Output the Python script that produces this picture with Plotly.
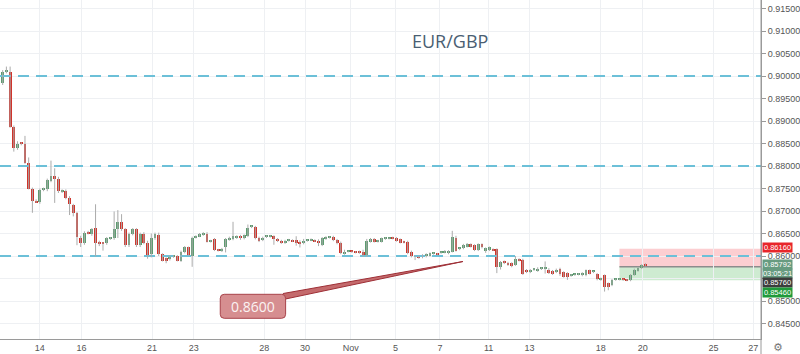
import plotly.graph_objects as go

# ---------------- data (4h EUR/GBP candles) ----------------
opens = [.8984,.9009,.9010,.8887,.8841,.8850,.8849,.8807,.8750,.8723,
         .8720,.8747,.8748,.8767,.8778,.8772,.8744,.8745,.8730,.8714,
         .8695,.8641,.8628,.8652,.8649,.8662,.8630,.8628,.8628,.8639,
         .8639,.8661,.8676,.8659,.8624,.8650,.8659,.8624,.8650,.8630,
         .8605,.8639,.8647,.8604,.8595,.8593,.8599,.8600,.8590,.8608,
         .8619,.8599,.8641,.8644,.8648,.8650,.8633,.8637,.8614,.8613,
         .8619,.8636,.8637,.8642,.8644,.8639,.8644,.8665,.8665,.8641,
         .8636,.8643,.8644,.8645,.8638,.8634,.8630,.8635,.8634,.8635,
         .8632,.8628,.8634,.8635,.8634,.8634,.8624,.8639,.8641,.8642,
         .8636,.8630,.8606,.8610,.8610,.8609,.8610,.8610,.8600,.8632,
         .8637,.8633,.8632,.8639,.8639,.8640,.8640,.8637,.8632,.8632,
         .8610,.8599,.8599,.8597,.8599,.8601,.8606,.8605,.8607,.8608,
         .8606,.8610,.8639,.8616,.8617,.8621,.8626,.8624,.8613,.8626,
         .8612,.8613,.8614,.8615,.8576,.8587,.8585,.8584,.8580,.8592,
         .8591,.8569,.8564,.8570,.8567,.8572,.8572,.8570,.8567,.8564,
         .8572,.8564,.8562,.8557,.8559,.8560,.8557,.8557,.8568,.8565,
         .8559,.8548,.8557,.8539,.8536,.8548,.8548,.8548,.8547,.8546,
         .8558,.8567,.8573,.8580]
highs = [.9013,.9021,.9021,.8890,.8855,.8853,.8867,.8819,.8752,.8726,
         .8750,.8752,.8772,.8812,.8795,.8776,.8748,.8748,.8733,.8716,
         .8698,.8645,.8655,.8656,.8662,.8715,.8634,.8631,.8642,.8642,
         .8699,.8702,.8693,.8662,.8652,.8662,.8662,.8652,.8653,.8634,
         .8650,.8652,.8652,.8606,.8597,.8602,.8602,.8602,.8612,.8622,
         .8621,.8643,.8646,.8651,.8653,.8653,.8636,.8640,.8616,.8618,
         .8640,.8643,.8676,.8646,.8647,.8648,.8670,.8668,.8667,.8643,
         .8643,.8646,.8647,.8646,.8640,.8636,.8636,.8638,.8637,.8644,
         .8635,.8638,.8637,.8639,.8637,.8637,.8642,.8644,.8644,.8645,
         .8638,.8632,.8614,.8612,.8612,.8611,.8612,.8614,.8638,.8640,
         .8640,.8636,.8641,.8642,.8641,.8643,.8642,.8639,.8634,.8634,
         .8612,.8601,.8601,.8604,.8606,.8608,.8608,.8607,.8610,.8613,
         .8613,.8656,.8645,.8619,.8627,.8629,.8628,.8626,.8628,.8628,
         .8619,.8621,.8617,.8617,.8589,.8590,.8587,.8586,.8600,.8595,
         .8594,.8571,.8571,.8573,.8575,.8575,.8588,.8573,.8569,.8572,
         .8574,.8566,.8564,.8560,.8561,.8562,.8564,.8570,.8570,.8567,
         .8562,.8552,.8559,.8541,.8549,.8550,.8550,.8550,.8549,.8560,
         .8572,.8576,.8582,.8584]
lows = [.8980,.9006,.8885,.8832,.8836,.8846,.8805,.8748,.8696,.8718,
        .8716,.8744,.8744,.8764,.8718,.8740,.8740,.8726,.8691,.8688,
        .8624,.8620,.8625,.8648,.8645,.8599,.8622,.8612,.8625,.8636,
        .8636,.8640,.8656,.8620,.8620,.8646,.8620,.8620,.8626,.8594,
        .8597,.8636,.8600,.8588,.8584,.8590,.8596,.8588,.8587,.8606,
        .8600,.8576,.8639,.8642,.8645,.8630,.8630,.8611,.8610,.8609,
        .8608,.8634,.8635,.8638,.8636,.8637,.8642,.8662,.8637,.8631,
        .8633,.8640,.8641,.8625,.8631,.8627,.8627,.8632,.8631,.8623,
        .8619,.8626,.8632,.8633,.8631,.8622,.8622,.8636,.8639,.8633,
        .8626,.8604,.8603,.8608,.8607,.8606,.8605,.8598,.8598,.8630,
        .8630,.8630,.8630,.8636,.8637,.8637,.8632,.8628,.8628,.8604,
        .8597,.8591,.8594,.8595,.8597,.8599,.8603,.8602,.8605,.8606,
        .8604,.8608,.8610,.8613,.8615,.8619,.8619,.8611,.8611,.8617,
        .8607,.8611,.8611,.8562,.8570,.8582,.8578,.8575,.8578,.8588,
        .8558,.8562,.8562,.8567,.8565,.8569,.8561,.8560,.8558,.8562,
        .8556,.8552,.8547,.8554,.8556,.8557,.8555,.8555,.8559,.8562,
        .8546,.8545,.8521,.8524,.8533,.8545,.8546,.8545,.8544,.8544,
        .8556,.8565,.8571,.8577]
closes = [.9009,.9010,.8887,.8841,.8850,.8849,.8807,.8750,.8723,.8720,
          .8747,.8749,.8769,.8778,.8772,.8744,.8745,.8729,.8716,.8695,
          .8642,.8628,.8652,.8651,.8659,.8630,.8628,.8627,.8639,.8639,
          .8661,.8676,.8659,.8624,.8650,.8659,.8624,.8650,.8628,.8597,
          .8639,.8650,.8604,.8590,.8590,.8600,.8599,.8590,.8610,.8619,
          .8602,.8641,.8644,.8648,.8650,.8632,.8634,.8613,.8612,.8614,
          .8637,.8641,.8645,.8642,.8639,.8647,.8663,.8665,.8639,.8634,
          .8641,.8643,.8644,.8637,.8633,.8630,.8634,.8635,.8633,.8631,
          .8627,.8634,.8635,.8636,.8633,.8628,.8639,.8642,.8641,.8636,
          .8628,.8606,.8610,.8610,.8609,.8608,.8607,.8600,.8634,.8637,
          .8633,.8634,.8639,.8639,.8640,.8639,.8634,.8630,.8629,.8606,
          .8599,.8598,.8597,.8602,.8604,.8606,.8606,.8604,.8608,.8608,
          .8611,.8643,.8612,.8617,.8624,.8626,.8621,.8613,.8626,.8619,
          .8617,.8619,.8613,.8576,.8587,.8585,.8580,.8578,.8593,.8591,
          .8561,.8564,.8569,.8570,.8572,.8572,.8573,.8563,.8561,.8570,
          .8559,.8554,.8554,.8557,.8559,.8560,.8562,.8568,.8561,.8565,
          .8548,.8549,.8531,.8532,.8547,.8548,.8548,.8547,.8546,.8558,
          .8570,.8574,.8580,.85792]

tick_pos = [10.0, 21.2, 40.2, 51.4, 70.4, 81.4, 93.7, 105.7, 117.7, 130.8,
            141.8, 161.0, 172.3, 191.3, 202.0]
tick_text = ["14", "16", "21", "23", "28", "30", "Nov", "5", "7", "11",
             "13", "18", "20", "25", "27"]

price_ticks = [0.845, 0.850, 0.855, 0.860, 0.865, 0.870, 0.875, 0.880,
               0.885, 0.890, 0.895, 0.900, 0.905, 0.910, 0.915]
hidden_price_ticks = [0.855]   # covered by the price labels in the original

levels = [0.90, 0.88, 0.86]
stop_price = 0.8616
entry_price = 0.8576
target_price = 0.8546
current_price = 0.85792
box_start = 166
callout_text = "0.8600"
title_text = "EUR/GBP"
countdown = "03:05:21"

# ---------------- figure ----------------
N = len(opens)
idx = list(range(N))
X_RANGE = [-0.72, 204.1]
Y_RANGE = [0.84156, 0.91689]
PW, PH = 766.0, 339.0

GREEN = "#5c9c70"
RED = "#d0342b"

wx, wy = [], []
for i in idx:
    wx += [i, i, None]
    wy += [lows[i], highs[i], None]

min_h = (Y_RANGE[1] - Y_RANGE[0]) / PH * 1.0
base = [min(o, c) for o, c in zip(opens, closes)]
height = [max(abs(c - o), min_h) for o, c in zip(opens, closes)]
colors = [GREEN if c >= o else RED for o, c in zip(opens, closes)]

fig = go.Figure()
# horizontal key levels (dashed)
for lv in levels:
    fig.add_trace(go.Scatter(x=X_RANGE, y=[lv, lv], mode="lines",
                             line=dict(color="#6cc0d8", width=2, dash="11px,7px"),
                             hoverinfo="skip"))
fig.add_trace(go.Scatter(x=wx, y=wy, mode="lines",
                         line=dict(color="#ababab", width=1),
                         hoverinfo="skip", connectgaps=False))
fig.add_trace(go.Bar(x=idx, base=base, y=height, width=0.78,
                     marker=dict(color=colors, line=dict(width=0)),
                     hoverinfo="skip"))


def xp(px):
    return px / PW


def yp(py):
    return 1 - py / PH


shapes = []
shapes.append(dict(type="rect", xref="x", yref="y", x0=box_start, x1=X_RANGE[1],
                   y0=entry_price, y1=stop_price, layer="below",
                   fillcolor="rgba(242,60,70,0.25)", line=dict(width=0)))
shapes.append(dict(type="rect", xref="x", yref="y", x0=box_start, x1=X_RANGE[1],
                   y0=target_price, y1=entry_price, layer="below",
                   fillcolor="rgba(60,175,70,0.25)", line=dict(width=0)))
shapes.append(dict(type="line", xref="x", yref="y", x0=box_start, x1=X_RANGE[1],
                   y0=entry_price, y1=entry_price, layer="below",
                   line=dict(color="#8c8c8c", width=1.5)))
# right axis line extending through bottom strip
shapes.append(dict(type="line", xref="paper", yref="paper", x0=1, x1=1,
                   y0=-15 / PH, y1=1, line=dict(color="#9a9a9a", width=1)))

# callout pointer
shapes.append(dict(type="path", xref="paper", yref="paper",
                   path=f"M {xp(285)},{yp(293.5)} L {xp(466)},{yp(261.5)} L {xp(285)},{yp(299.5)} Z",
                   fillcolor="#c46a6c", line=dict(color="#9e2f36", width=1), layer="above"))
# callout rounded box
x0, x1, y0, y1, r = 221.7, 287.5, 294.3, 318.3, 4
rx, ry = r / PW, r / PH
X0, X1, Y0, Y1 = xp(x0), xp(x1), yp(y0), yp(y1)
path = (f"M {X0+rx},{Y0} L {X1-rx},{Y0} Q {X1},{Y0} {X1},{Y0-ry} "
        f"L {X1},{Y1+ry} Q {X1},{Y1} {X1-rx},{Y1} L {X0+rx},{Y1} "
        f"Q {X0},{Y1} {X0},{Y1+ry} L {X0},{Y0-ry} Q {X0},{Y0} {X0+rx},{Y0} Z")
shapes.append(dict(type="path", xref="paper", yref="paper", path=path,
                   fillcolor="#d68e90", line=dict(color="#a8434a", width=1), layer="above"))

annotations = [
    dict(text=title_text, xref="paper", yref="paper", x=xp(453), y=yp(41),
         xanchor="center", yanchor="middle",
         showarrow=False, font=dict(family="Open Sans", size=18, color="#4a5e72")),
    dict(text=callout_text, xref="paper", yref="paper", x=xp(254.6), y=yp(306.3),
         xanchor="center", yanchor="middle",
         showarrow=False, font=dict(family="Open Sans", size=14, color="#fbf3f3")),
    dict(text="⚙", xref="paper", yref="paper", x=xp(783), y=yp(347),
         xanchor="center", yanchor="middle",
         showarrow=False, font=dict(family="DejaVu Sans", size=11, color="#777")),
]

labels = [
    (f"{stop_price:.5f}", 247.8, "#e8262b"),
    (f"{current_price:.5f}", 264.4, "#679b80"),
    (countdown, 273.6, "#679b80"),
    (f"{entry_price:.5f}", 282.8, "#3c3c3c"),
    (f"{target_price:.5f}", 292.0, "#1f9a3a"),
]
for txt, py, col in labels:
    annotations.append(dict(text=txt, xref="paper", yref="paper", x=1, y=yp(py),
                            xanchor="left", yanchor="middle", xshift=1,
                            showarrow=False, bgcolor=col, width=29, height=9,
                            borderpad=0,
                            font=dict(family="Liberation Sans", size=7.5, color="white")))

price_text = ["" if any(abs(t - h) < 1e-9 for h in hidden_price_ticks) else f"{t:.5f}"
              for t in price_ticks]

fig.update_layout(
    width=800, height=354,
    margin=dict(l=0, r=34, t=0, b=15),
    plot_bgcolor="white", paper_bgcolor="white",
    showlegend=False, barmode="overlay", bargap=0,
    shapes=shapes, annotations=annotations,
    xaxis=dict(range=X_RANGE, tickvals=tick_pos, ticktext=tick_text,
               showgrid=True, gridcolor="#eef0f3", gridwidth=1, zeroline=False,
               showline=True, linecolor="#9a9a9a", linewidth=1, ticks="",
               tickfont=dict(family="Liberation Sans", size=9, color="#555"),
               fixedrange=True),
    yaxis=dict(range=Y_RANGE, side="right", tickvals=price_ticks, ticktext=price_text,
               showgrid=True, gridcolor="#eef0f3",
               zeroline=False, showline=True, linecolor="#9a9a9a",
               ticks="outside", ticklen=4, tickcolor="#9a9a9a",
               tickfont=dict(family="Liberation Sans", size=9, color="#555"),
               fixedrange=True),
)

fig.write_html("out.html")
